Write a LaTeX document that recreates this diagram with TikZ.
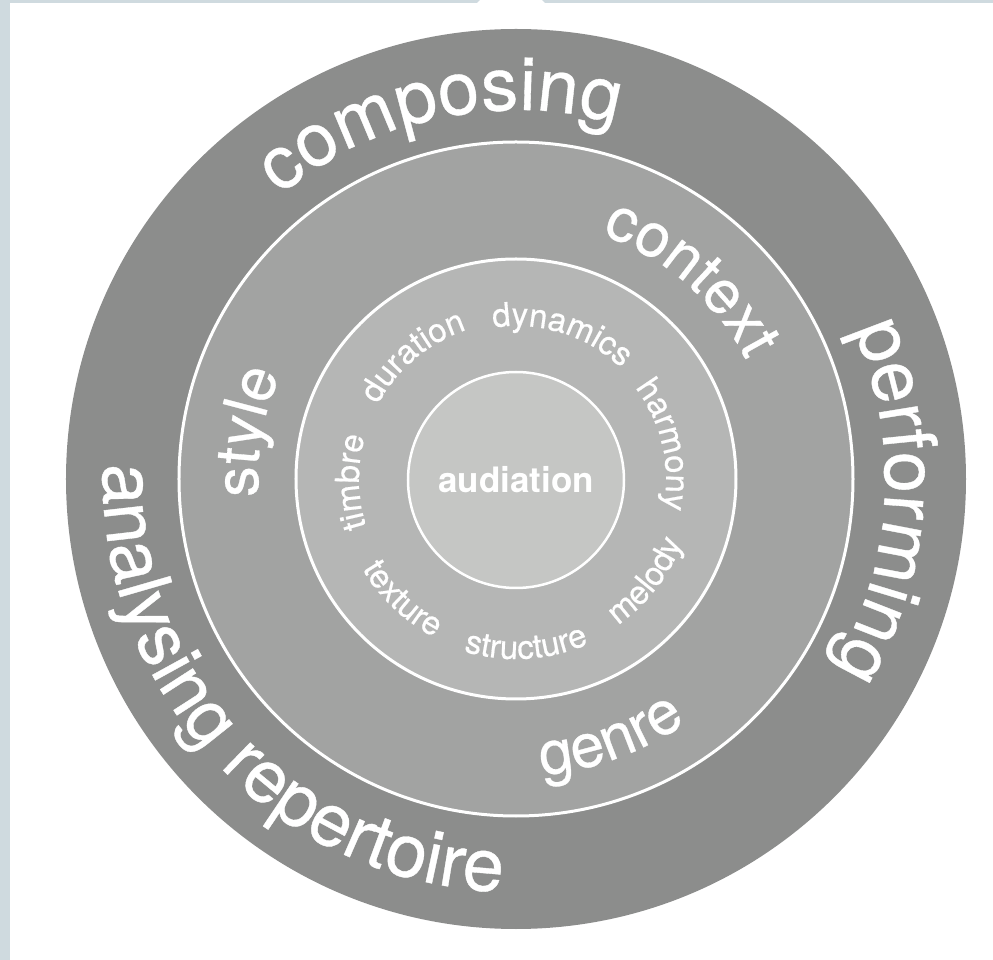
\documentclass[tikz,border=0pt]{standalone}
\usepackage{fontspec}
\usetikzlibrary{decorations.text}
\newfontfamily\heros[FakeBold=0.5]{TeX Gyre Heros}
\newfontfamily\herosbold{TeX Gyre Heros Bold}
\newcommand\fouter{\heros\fontsize{74}{80}\selectfont}
\newcommand\fmid{\heros\fontsize{61}{66}\selectfont}
\newcommand\finner{\heros\fontsize{33}{36}\selectfont}
\definecolor{outerc}{HTML}{8C8D8C}
\definecolor{midc}{HTML}{A2A3A2}
\definecolor{innerc}{HTML}{B5B6B5}
\definecolor{corec}{HTML}{C5C6C4}
\definecolor{framec}{HTML}{CFDADF}
% clockwise text (tops outward): font, text, centre angle, baseline radius
\newcommand\cwlabel[4]{%
  \path[decorate,decoration={text along path,text={|#1|#2},text align=center,text color=white}]
    ({#3+90}:#4) arc[start angle={#3+90},end angle={#3-90},radius=#4];}
% counter-clockwise text (tops inward)
\newcommand\ccwlabel[4]{%
  \path[decorate,decoration={text along path,text={|#1|#2},text align=center,text color=white}]
    ({#3-90}:#4) arc[start angle={#3-90},end angle={#3+90},radius=#4];}
\tikzset{
  ring/.style={fill=#1,draw=white,line width=3pt},
  frame/.style={fill=framec,draw=none}
}
\begin{document}
\begin{tikzpicture}[x=1pt,y=1pt]
\useasboundingbox (-516,-481) rectangle (477,479);
\fill[white] (-516,-481) rectangle (477,479);
% frame strips
\fill[frame] (-516,-481) rectangle (-506,479);
\fill[frame] (-516,476) -- (-39,476) -- (-36,479) -- (-516,479) -- cycle;
\fill[frame] (29,476) -- (477,476) -- (477,479) -- (26,479) -- cycle;
% rings
\fill[outerc] (0,0) circle (450);
\path[ring=midc] (0,0) circle (337);
\path[ring=innerc] (0,0) circle (220);
\path[ring=corec,line width=2.5pt] (0,-1) circle (108);
\node[text=white,font=\herosbold\fontsize{35}{38}\selectfont] (core) at (0,-1) {audiation};
% outer ring
\cwlabel{\fouter}{composing}{102}{369pt}
\cwlabel{\fouter}{performing}{-3.5}{369pt}
\ccwlabel{\fouter}{analysing repertoire}{223}{413pt}
% middle ring
\cwlabel{\fmid}{context}{49}{259pt}
\cwlabel{\fmid}{style}{170}{258pt}
\ccwlabel{\fmid}{genre}{-70}{297pt}
% inner ring
\cwlabel{\finner}{timbre}{181}{157pt}
\cwlabel{\finner}{duration}{130}{157pt}
\cwlabel{\finner}{dynamics}{72.5}{153pt}
\cwlabel{\finner}{harmony}{13}{150pt}
\ccwlabel{\finner}{melody}{-38}{178pt}
\ccwlabel{\finner}{structure}{-86.5}{180pt}
\ccwlabel{\finner}{texture}{226.5}{178pt}
\end{tikzpicture}
\end{document}
